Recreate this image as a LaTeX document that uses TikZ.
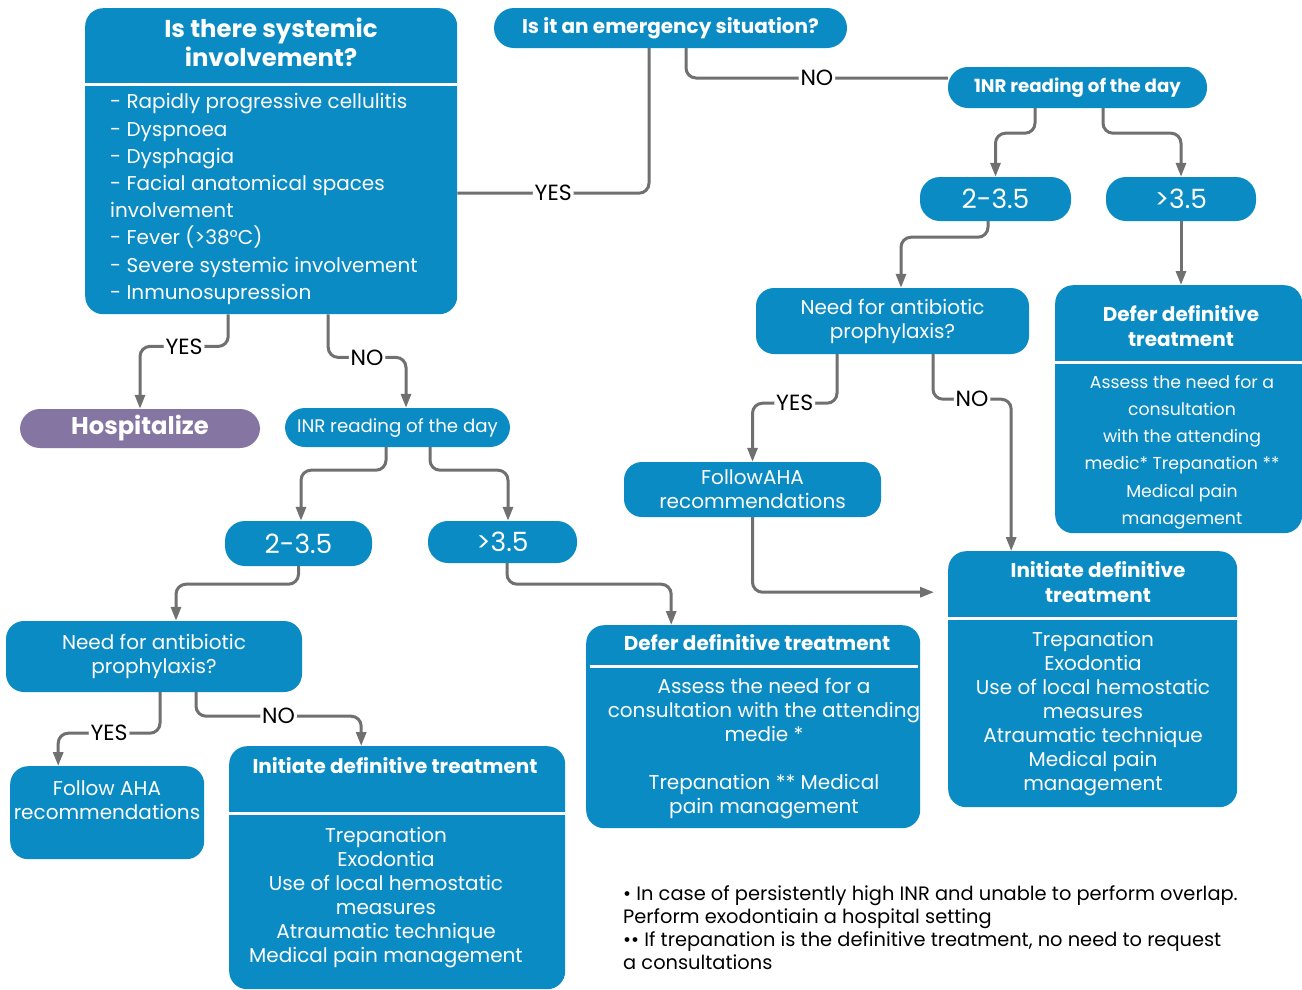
\documentclass[tikz,border=0pt]{standalone}
\usepackage{fontspec}
\setmainfont{Poppins}
\usetikzlibrary{arrows.meta,positioning}
\definecolor{flowblue}{HTML}{0A8BC3}
\definecolor{hospviolet}{HTML}{8575A3}
\definecolor{linkgray}{HTML}{707070}

\begin{document}
\begin{tikzpicture}[x=1pt,y=-1pt,
    box/.style={fill=flowblue,rounded corners=18pt,inner sep=0pt,anchor=north west},
    pill/.style={fill=flowblue,rounded corners=20pt,text=white,inner sep=0pt,align=center},
    head/.style={text=white,font=\bfseries\fontsize{20}{25}\selectfont,align=center,inner sep=0pt},
    body/.style={text=white,font=\fontsize{20}{24}\selectfont,align=center,inner sep=0pt},
    sep/.style={white,line width=3pt},
    link/.style={draw=linkgray,line width=3pt,rounded corners=10pt},
    arr/.style={link,-{Triangle[length=14pt,width=10pt]}},
    lbl/.style={fill=white,inner sep=2pt,font=\fontsize{22}{24}\selectfont}]
    \fill[white] (0,0) rectangle (1302,989);
    \useasboundingbox (0,0) rectangle (1302,989);

    % top left question
    \node (sys) [box,minimum width=372pt,minimum height=306pt] at (85,8) {};
    \node (syshead) [head,font=\bfseries\fontsize{24.4}{29}\selectfont] at (271,42) {Is there systemic\\involvement?};
    \draw[sep] (85,84) -- (457,84);
    \node (syslist) [body,align=left,anchor=west,font=\fontsize{20}{27.2}\selectfont] at (110,199) {- Rapidly progressive cellulitis\\- Dyspnoea\\- Dysphagia\\- Facial anatomical spaces\\involvement\\- Fever (>38°C)\\- Severe systemic involvement\\- Inmunosupression};

    \node (emerg) [pill,minimum width=353pt,minimum height=40pt,font=\bfseries\fontsize{20}{22}\selectfont] at (670.5,28) {Is it an emergency situation?};

    % right branch
    \node (inra) [pill,minimum width=259pt,minimum height=41pt,font=\bfseries\fontsize{18.2}{22}\selectfont] at (1077.5,87.5) {1NR reading of the day};
    \node (lowa) [pill,minimum width=151pt,minimum height=44pt,font=\fontsize{26.5}{28}\selectfont] at (995.5,199) {2-3.5};
    \node (higha) [pill,minimum width=150pt,minimum height=44pt,font=\fontsize{26.5}{28}\selectfont] at (1181,199) {>3.5};
    \node (abxa) [pill,rounded corners=18pt,minimum width=273pt,minimum height=66pt,font=\fontsize{20}{24}\selectfont] at (892.5,321) {Need for antibiotic\\prophylaxis?};
    \node (defera) [box,minimum width=247pt,minimum height=248pt] at (1055,285) {};
    \node (deferahead) [head] at (1181,326) {Defer definitive\\treatment};
    \draw[sep] (1055,362) -- (1302,362);
    \node (deferabody) [body,font=\fontsize{17.3}{27.2}\selectfont] at (1182,452) {Assess the need for a\\consultation\\with the attending\\medic* Trepanation **\\Medical pain\\management};
    \node (ahaa) [pill,rounded corners=18pt,minimum width=257pt,minimum height=55pt,font=\fontsize{20}{24}\selectfont] at (752.5,489.5) {FollowAHA\\recommendations};
    \node (inita) [box,minimum width=289pt,minimum height=256pt] at (948,551) {};
    \node (initahead) [head] at (1098,582) {Initiate definitive\\treatment};
    \draw[sep] (948,618) -- (1237,618);
    \node (initabody) [body] at (1093,714) {Trepanation\\Exodontia\\Use of local hemostatic\\measures\\Atraumatic technique\\Medical pain\\management};

    % left branch
    \node (hosp) [pill,fill=hospviolet,minimum width=240pt,minimum height=39pt,font=\bfseries\fontsize{24.2}{28}\selectfont] at (140,428.5) {Hospitalize};
    \node (inrb) [pill,minimum width=225pt,minimum height=39pt,font=\fontsize{18.2}{22}\selectfont] at (397.5,427.5) {INR reading of the day};
    \node (lowb) [pill,minimum width=147pt,minimum height=45pt,font=\fontsize{26.5}{28}\selectfont] at (298.5,543.5) {2-3.5};
    \node (highb) [pill,minimum width=149pt,minimum height=42pt,font=\fontsize{26.5}{28}\selectfont] at (502.5,542) {>3.5};
    \node (abxb) [pill,rounded corners=18pt,minimum width=296pt,minimum height=71pt,font=\fontsize{20}{24}\selectfont] at (154,656.5) {Need for antibiotic\\prophylaxis?};
    \node (ahab) [box,minimum width=194pt,minimum height=93pt] at (10,766) {};
    \node (ahabtext) [body] at (107,800) {Follow AHA\\recommendations};
    \node (initb) [box,minimum width=336pt,minimum height=243pt] at (229,746) {};
    \node (initbhead) [head] at (395,766) {Initiate definitive treatment};
    \draw[sep] (229,813) -- (565,813);
    \node (initbbody) [body] at (386,898) {Trepanation\\Exodontia\\Use of local hemostatic\\measures\\Atraumatic technique\\Medical pain management};
    \node (deferb) [box,minimum width=334pt,minimum height=203pt] at (586,625) {};
    \node (deferbhead) [head] at (757,643) {Defer definitive treatment};
    \draw[sep] (590,666) -- (918,666);
    \node (deferbbody) [body] at (764,749) {Assess the need for a\\consultation with the attending\\medie *\\\mbox{}\\Trepanation ** Medical\\pain management};

    % notes
    \node (notes) [anchor=north west,align=left,inner sep=0pt,font=\fontsize{19.4}{23}\selectfont] at (623,885) {• In case of persistently high INR and unable to perform overlap.\\Perform exodontiain a hospital setting\\•• If trepanation is the definitive treatment, no need to request\\a consultations};

    % connectors
    \draw[link] ([xshift=-21.5pt]emerg.south) |- node[lbl,pos=0.75]{YES} ([yshift=-32pt]sys.east);
    \draw[link] ([xshift=15.5pt]emerg.south) |- node[lbl,pos=0.75]{NO} ([yshift=9.5pt]inra.west);
    \draw[arr] ([xshift=-42.5pt]inra.south) -- ++(0,25) -| (lowa.north);
    \draw[arr] ([xshift=25.5pt]inra.south) -- ++(0,25) -| (higha.north);
    \draw[arr] ([xshift=-7.5pt]lowa.south) -- ++(0,16) -| ([xshift=8.5pt]abxa.north);
    \draw[arr] (higha.south) -- (higha.south |- defera.north);
    \draw[arr] ([xshift=-55.5pt]abxa.south) -- ++(0,49) -| node[lbl,pos=0.25]{YES} (ahaa.north);
    \draw[arr] ([xshift=40.5pt]abxa.south) -- ++(0,45) -| node[lbl,pos=0.25]{NO} ([xshift=-81.5pt]inita.north);
    \draw[arr,shorten >=14pt] (ahaa.south) |- ([yshift=87pt]inita.west);
    \draw[arr] ([xshift=-43pt]sys.south) -- ++(0,32) -| node[lbl,pos=0.25]{YES} (hosp.north);
    \draw[arr] ([xshift=57pt]sys.south) -- ++(0,43) -| node[lbl,pos=0.25]{NO} ([xshift=8.5pt]inrb.north);
    \draw[arr] ([xshift=-11.5pt]inrb.south) -- ++(0,23) -| ([xshift=2.5pt]lowb.north);
    \draw[arr] ([xshift=32.5pt]inrb.south) -- ++(0,23) -| ([xshift=5.5pt]highb.north);
    \draw[arr] (lowb.south) -- ++(0,18) -| ([xshift=22pt]abxb.north);
    \draw[arr] ([xshift=4.5pt]highb.south) -- ++(0,21) -| ([xshift=-82pt]deferb.north);
    \draw[arr] ([xshift=6pt]abxb.south) -- ++(0,41) -| node[lbl,pos=0.25]{YES} ([xshift=-49pt]ahab.north);
    \draw[arr] ([xshift=42pt]abxb.south) -- ++(0,24) -| node[lbl,pos=0.25]{NO} ([xshift=-36pt]initb.north);
\end{tikzpicture}
\end{document}
